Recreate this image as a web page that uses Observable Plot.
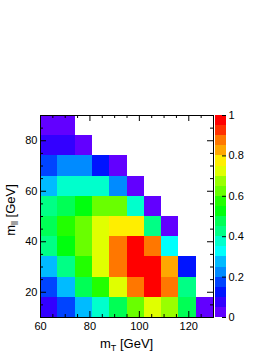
<!DOCTYPE html>
<html>
<head>
<meta charset="utf-8">
<script src="https://cdn.jsdelivr.net/npm/d3@7"></script>
<script src="https://cdn.jsdelivr.net/npm/@observablehq/plot@0.6"></script>
<style>
  html, body { margin: 0; padding: 0; background: #fff; }
  #wrap { position: relative; width: 274px; height: 355px; font-family: "Liberation Sans", Arial, sans-serif; color: #000; }
  #wrap svg { position: absolute; top: 0; }
  .title { position: absolute; font-size: 13px; white-space: nowrap; line-height: 1; }
  .title sub { font-size: 9px; vertical-align: -3px; }
</style>
</head>
<body>
<div id="wrap"></div>
<script>
// Bin edges (GeV)
const xEdges = [60, 67, 74, 81, 88, 95, 102, 109, 116, 123, 130];
const yEdges = [10, 18, 26, 34, 42, 50, 58, 66, 74, 82, 90];
// Cell contents, rows from bottom (m_ll 10-18) to top (82-90), columns along m_T
const row0 = [0.07, 0.17, 0.27, 0.37, 0.47, 0.62, 0.72, 0.67, 0.47, 0.02];
const row1 = [0.17, 0.27, 0.47, 0.57, 0.72, 0.87, 0.97, 0.87, 0.42, null];
const row2 = [0.27, 0.42, 0.57, 0.72, 0.87, 1.00, 0.97, 0.82, 0.12, null];
const row3 = [0.42, 0.52, 0.62, 0.72, 0.87, 0.98, 0.87, 0.32, null, null];
const row4 = [0.47, 0.57, 0.62, 0.72, 0.77, 0.77, 0.42, 0.02, null, null];
const row5 = [0.42, 0.47, 0.52, 0.62, 0.62, 0.37, 0.02, null, null, null];
const row6 = [0.27, 0.37, 0.37, 0.37, 0.22, 0.02, null, null, null, null];
const row7 = [0.17, 0.22, 0.22, 0.12, 0.02, null, null, null, null, null];
const row8 = [0.07, 0.07, 0.02, null, null, null, null, null, null, null];
const row9 = [0.02, 0.02, null, null, null, null, null, null, null, null];
const rows = [row0, row1, row2, row3, row4, row5, row6, row7, row8, row9];

// Colour levels (20 contours) and palette
const levels = [0, 0.05, 0.1, 0.15, 0.2, 0.25, 0.3, 0.35, 0.4, 0.45, 0.5,
                0.55, 0.6, 0.65, 0.7, 0.75, 0.8, 0.85, 0.9, 0.95, 1];
const palette = ["#6200ff", "#3300ff", "#0014ff", "#0044ff", "#008bff", "#00bbff",
                 "#00fffc", "#00ffcc", "#00ff85", "#00ff55", "#00ff0e", "#22ff00",
                 "#69ff00", "#99ff00", "#e0ff00", "#ffee00", "#ffa700", "#ff7700",
                 "#ff3000", "#ff0000"];

// Ticks
const xMajor = [60, 80, 100, 120];
const xMinor = [65, 70, 75, 85, 90, 95, 105, 110, 115, 125];
const yMajor = [20, 40, 60, 80];
const yMinor = [15, 25, 30, 35, 45, 50, 55, 65, 70, 75, 85];
const zTicks = [0, 0.2, 0.4, 0.6, 0.8, 1];

const cells = [];
rows.forEach((r, j) => r.forEach((v, i) => {
  if (v != null) cells.push({x1: xEdges[i], x2: xEdges[i + 1], y1: yEdges[j], y2: yEdges[j + 1], v});
}));
const bands = levels.slice(0, -1).map((lo, k) => ({lo, hi: levels[k + 1], mid: (lo + levels[k + 1]) / 2}));

const colorOpts = {type: "threshold", domain: levels.slice(1, -1), range: palette};
const W = 274, H = 355, mT = 115, mB = 38, mL = 40, mR = 61;
const iH = H - mT - mB, iW = W - mL - mR;
const maj = 6, mnr = 3;
const font = {fontFamily: "Liberation Sans, Arial, sans-serif", fontSize: "11px", background: "transparent", overflow: "visible"};

const main = Plot.plot({
  width: W, height: H, marginTop: mT, marginBottom: mB, marginLeft: mL, marginRight: mR,
  style: font,
  x: {domain: [60, 130]},
  y: {domain: [10, 90]},
  color: colorOpts,
  marks: [
    Plot.rect(cells, {x1: "x1", x2: "x2", y1: "y1", y2: "y2", fill: "v", shapeRendering: "crispEdges"}),
    Plot.frame({stroke: "#000", strokeWidth: 1}),
    Plot.ruleX(xMajor, {x: d => d, insetTop: iH - maj, stroke: "#000"}),
    Plot.ruleX(xMinor, {x: d => d, insetTop: iH - mnr, stroke: "#000"}),
    Plot.ruleX(xMajor, {x: d => d, insetBottom: iH - maj, stroke: "#000"}),
    Plot.ruleX(xMinor, {x: d => d, insetBottom: iH - mnr, stroke: "#000"}),
    Plot.ruleY(yMajor, {y: d => d, insetRight: iW - maj, stroke: "#000"}),
    Plot.ruleY(yMinor, {y: d => d, insetRight: iW - mnr, stroke: "#000"}),
    Plot.ruleY(yMajor, {y: d => d, insetLeft: iW - maj, stroke: "#000"}),
    Plot.ruleY(yMinor, {y: d => d, insetLeft: iW - mnr, stroke: "#000"}),
    Plot.axisX({ticks: xMajor, tickSize: 0, tickPadding: 5, label: null, fill: "#000"}),
    Plot.axisY({ticks: yMajor, tickSize: 0, tickPadding: 3, label: null, fill: "#000"})
  ]
});
main.style.left = "0px";

const barL = 215, barW = 11;
const bar = Plot.plot({
  width: W - barL, height: H, marginTop: mT, marginBottom: mB, marginLeft: 0, marginRight: W - barL - barW,
  style: font,
  y: {domain: [0, 1]},
  color: colorOpts,
  marks: [
    Plot.rect(bands, {y1: "lo", y2: "hi", fill: "mid", shapeRendering: "crispEdges"}),
    Plot.ruleY(zTicks, {y: d => d, insetLeft: barW - 4, stroke: "#000"}),
    Plot.axisY({anchor: "right", ticks: zTicks, tickSize: 0, tickPadding: 2, tickFormat: d3.format("~g"), label: null, fill: "#000"})
  ]
});
bar.style.left = barL + "px";

const wrap = document.getElementById("wrap");
wrap.appendChild(main);
wrap.appendChild(bar);

const xt = document.createElement("div");
xt.className = "title";
xt.innerHTML = "m<sub>T</sub> [GeV]";
wrap.appendChild(xt);
xt.style.left = (mL + iW / 2 - xt.offsetWidth / 2) + "px";
xt.style.top = "337px";

const yt = document.createElement("div");
yt.className = "title";
yt.innerHTML = "m<sub>ll</sub> [GeV]";
wrap.appendChild(yt);
const w = yt.offsetWidth, h = yt.offsetHeight;
yt.style.left = (12 - w / 2) + "px";
yt.style.top = (210 - h / 2) + "px";
yt.style.transform = "rotate(-90deg)";
</script>
</body>
</html>
